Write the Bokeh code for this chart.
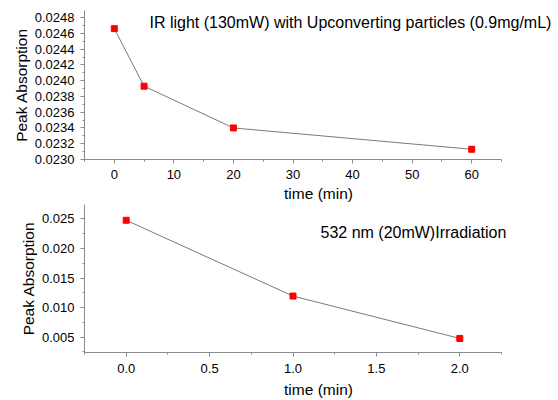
from bokeh.plotting import figure
from bokeh.layouts import column
from bokeh.models import (Label, SingleIntervalTicker, PrintfTickFormatter, Range1d)
from bokeh.embed import file_html
from bokeh.resources import INLINE

# Data
ir_time = [0, 5, 20, 60]
ir_abs = [0.02466, 0.02393, 0.02340, 0.02313]
ir_title = "IR light (130mW) with Upconverting particles (0.9mg/mL)"
ir_xbounds = (-5, 65)
ir_ybounds = (0.0230, 0.02489)

g_time = [0.0, 1.0, 2.0]
g_abs = [0.02478, 0.01195, 0.00478]
g_title = "532 nm (20mW)Irradiation"
g_xbounds = (-0.25, 2.25)
g_ybounds = (0.0024, 0.02745)

x_label = "time (min)"
y_label = "Peak Absorption"

FONT = "Liberation Sans"
AXC = "#8a8a8a"
FRAME_W = 468
AXIS_W = 417


def style(p, xfmt, yfmt, xint, yint, xb, yb, xls, xas):
    p.background_fill_color = None
    p.border_fill_color = None
    p.outline_line_color = None
    p.grid.visible = False
    p.xaxis.ticker = SingleIntervalTicker(interval=xint, num_minor_ticks=2)
    p.yaxis.ticker = SingleIntervalTicker(interval=yint, num_minor_ticks=2)
    p.xaxis.formatter = PrintfTickFormatter(format=xfmt)
    p.yaxis.formatter = PrintfTickFormatter(format=yfmt)
    p.xaxis.bounds = xb
    p.yaxis.bounds = yb
    for ax in (p.xaxis[0], p.yaxis[0]):
        ax.axis_line_color = AXC
        ax.major_tick_line_color = AXC
        ax.minor_tick_line_color = AXC
        ax.major_tick_in = 0
        ax.minor_tick_in = 0
        ax.major_tick_out = 4
        ax.minor_tick_out = 2
        ax.major_label_text_font = FONT
        ax.major_label_text_font_size = "13px"
        ax.major_label_text_color = "black"
        ax.axis_label_text_font = FONT
        ax.axis_label_text_font_size = "15.5px"
        ax.axis_label_text_font_style = "normal"
        ax.axis_label_text_color = "black"
    p.xaxis.major_label_standoff = xls
    p.xaxis.axis_label_standoff = xas
    p.yaxis.major_label_standoff = 6
    p.yaxis.axis_label_standoff = 2
    p.xaxis.axis_label = x_label
    p.yaxis.axis_label = y_label


def xrange_for(xb):
    span = (xb[1] - xb[0]) * FRAME_W / AXIS_W
    return Range1d(xb[0], xb[0] + span)


p1 = figure(width=558, height=204, output_backend="svg", toolbar_location=None,
            x_range=xrange_for(ir_xbounds), y_range=Range1d(*ir_ybounds),
            min_border_left=84, min_border_right=6, min_border_top=10, min_border_bottom=44)
style(p1, "%d", "%.4f", 10, 0.0002, ir_xbounds, ir_ybounds, 6, 3)
p1.line(ir_time, ir_abs, line_color="#7a7a7a", line_width=1)
p1.scatter(ir_time, ir_abs, marker="square", size=6, fill_color="red", line_color="red")
p1.add_layout(Label(x=65, y=137, x_units="screen", y_units="screen", text=ir_title,
                    text_font=FONT, text_font_size="16px", text_color="black",
                    text_baseline="alphabetic"))

p2 = figure(width=558, height=196, output_backend="svg", toolbar_location=None,
            x_range=xrange_for(g_xbounds), y_range=Range1d(*g_ybounds),
            min_border_left=84, min_border_right=6, min_border_top=0, min_border_bottom=47)
style(p2, "%.1f", "%.3f", 0.5, 0.005, g_xbounds, g_ybounds, 7, 5)
p2.line(g_time, g_abs, line_color="#7a7a7a", line_width=1)
p2.scatter(g_time, g_abs, marker="square", size=6, fill_color="red", line_color="red")
p2.add_layout(Label(x=236, y=120, x_units="screen", y_units="screen", text=g_title,
                    text_font=FONT, text_font_size="16px", text_color="black",
                    text_baseline="alphabetic"))

layout = column(p1, p2, spacing=0)
open("out.html", "w").write(file_html(layout, INLINE))
